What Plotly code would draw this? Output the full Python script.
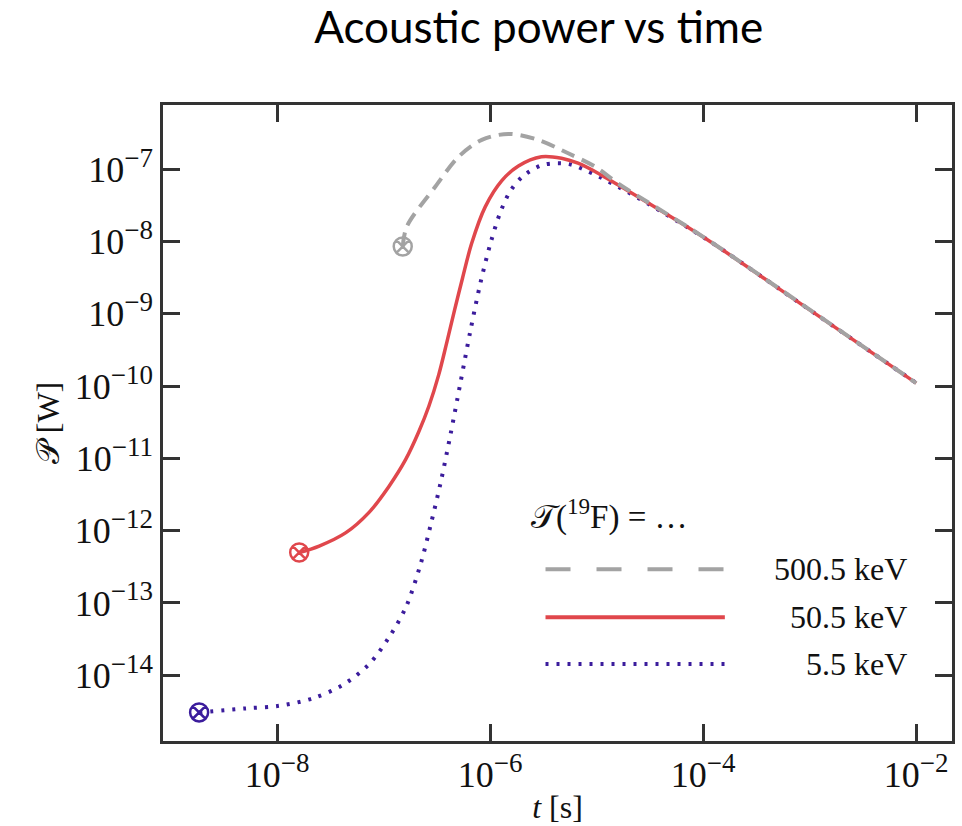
import plotly.graph_objects as go

# ---- data (t in s, P in W) ----
t_500 = [1.51e-7, 1.65e-7, 3.06e-7, 5.06e-7, 8.34e-7, 1.48e-6, 2.83e-6, 5.4e-6, 9.6e-6, 1.58e-5, 1e-4, 1e-3, 1e-2]
p_500 = [8.5e-9, 1.61e-8, 5.75e-8, 1.49e-7, 2.54e-7, 3.08e-7, 2.54e-7, 1.66e-7, 1.09e-7, 6.4e-8, 1.16e-8, 1.14e-9, 1.1e-10]

t_50 = [1.61e-8, 2.48e-8, 4.42e-8, 7.29e-8, 1.12e-7, 1.61e-7, 2.14e-7, 2.65e-7, 3.29e-7, 3.91e-7, 4.64e-7, 5.51e-7,
        6.68e-7, 8.98e-7, 1.28e-6, 1.84e-6, 3.03e-6, 4.67e-6, 6.68e-6, 1.03e-5, 1.58e-5, 1e-4, 1e-3, 1e-2]
p_50 = [4.97e-13, 6.12e-13, 9.38e-13, 1.79e-12, 4.09e-12, 9.66e-12, 2.35e-11, 5.21e-11, 1.44e-10, 3.99e-10, 1.14e-9, 3.15e-9,
        9.29e-9, 3.01e-8, 6.89e-8, 1.11e-7, 1.49e-7, 1.42e-7, 1.21e-7, 8.81e-8, 6.07e-8, 1.15e-8, 1.13e-9, 1.1e-10]

t_5 = [1.85e-9, 5.13e-9, 1.05e-8, 2.15e-8, 4.1e-8, 7.29e-8, 1.12e-7, 1.61e-7, 2.22e-7, 2.77e-7, 3.43e-7, 4.26e-7,
       5.28e-7, 6.55e-7, 8.11e-7, 1.01e-6, 1.25e-6, 1.55e-6, 2.05e-6, 3.15e-6, 5.39e-6, 7.73e-6, 1.58e-5, 1e-4, 1e-3, 1e-2]
p_5 = [3.06e-15, 3.48e-15, 3.78e-15, 4.78e-15, 7.3e-15, 1.42e-14, 3.33e-14, 8.6e-14, 3.43e-13, 1.22e-12, 4.65e-12, 2.21e-11,
       1.15e-10, 6.03e-10, 2.69e-9, 9.6e-9, 2.57e-8, 5.01e-8, 8.08e-8, 1.15e-7, 1.18e-7, 9.77e-8, 5.75e-8, 1.15e-8, 1.13e-9, 1.1e-10]

labels = ["500.5 keV", "50.5 keV", "5.5 keV"]
colors = ["#a3a3a3", "#e0474c", "#3b1c9c"]
x_ticks = [1e-8, 1e-6, 1e-4, 1e-2]
x_exps = ["−8", "−6", "−4", "−2"]
y_ticks = [1e-7, 1e-8, 1e-9, 1e-10, 1e-11, 1e-12, 1e-13, 1e-14]
y_exps = ["−7", "−8", "−9", "−10", "−11", "−12", "−13", "−14"]


def power_label(e):
    return "10<sup><span style='font-size:27px'>" + e + "</span></sup>"


series = {
    "500.5 keV": (t_500, p_500, "14px,8px", 4),
    "50.5 keV": (t_50, p_50, "solid", 3.5),
    "5.5 keV": (t_5, p_5, "3px,8px", 4),
}
cmap = dict(zip(labels, colors))

fig = go.Figure()
# draw order: blue, red, gray on top
for lab in ["5.5 keV", "50.5 keV", "500.5 keV"]:
    t, p, dash, w = series[lab]
    c = cmap[lab]
    fig.add_trace(go.Scatter(x=t, y=p, mode="lines", name=lab,
                             line=dict(color=c, width=w, dash=dash, shape="spline", smoothing=0.9, simplify=False),
                             showlegend=False))
    fig.add_trace(go.Scatter(x=[t[0]], y=[p[0]], mode="markers", showlegend=False,
                             marker=dict(symbol="circle-x-open", size=18, color=c, line=dict(width=2.5, color=c))))

serif = "Liberation Serif"
axis_common = dict(type="log", showgrid=False, zeroline=False, showline=True, linecolor="#333333", linewidth=2.5,
                   mirror="ticks", ticks="inside", ticklen=17, tickwidth=2.5, tickcolor="#333333",
                   tickfont=dict(family=serif, size=36, color="#111111"))

fig.update_xaxes(range=[-9.072, -1.664], tickvals=x_ticks, ticktext=[power_label(e) for e in x_exps], **axis_common,
                 title=dict(text="<i>t</i> [s]", font=dict(family=serif, size=32, color="#111111"), standoff=2))
fig.update_yaxes(range=[-14.91, -6.112], tickvals=y_ticks, ticktext=[power_label(e) for e in y_exps], **axis_common,
                 title=dict(text="𝒫 [W]", font=dict(family=serif, size=32, color="#111111"), standoff=6))

# manual legend
legend_y = [0.270, 0.1947, 0.1209]
legend_dash = ["25px,26px", "solid", "3px,8px"]
for y, c, d, lab in zip(legend_y, colors, legend_dash, labels):
    fig.add_shape(type="line", xref="paper", yref="paper", x0=0.4848, x1=0.7121, y0=y, y1=y,
                  line=dict(color=c, width=4, dash=d))
    fig.add_annotation(xref="paper", yref="paper", x=0.9457, y=y, xanchor="right", yanchor="middle",
                       text=lab, showarrow=False, font=dict(family=serif, size=32, color="#111111"))
fig.add_annotation(xref="paper", yref="paper", x=0.4634, y=0.356, xanchor="left", yanchor="middle",
                   text="𝒯(<sup>19</sup>F) = …", showarrow=False, font=dict(family=serif, size=33, color="#111111"))

fig.update_layout(
    width=962, height=826,
    margin=dict(l=163, r=7, t=105, b=84),
    paper_bgcolor="white", plot_bgcolor="white",
    title=dict(text="Acoustic power vs time", x=0.56, xanchor="center", y=0.966, yanchor="middle",
               font=dict(family="Lato", size=44, color="black")),
)

fig.write_html("out.html")
